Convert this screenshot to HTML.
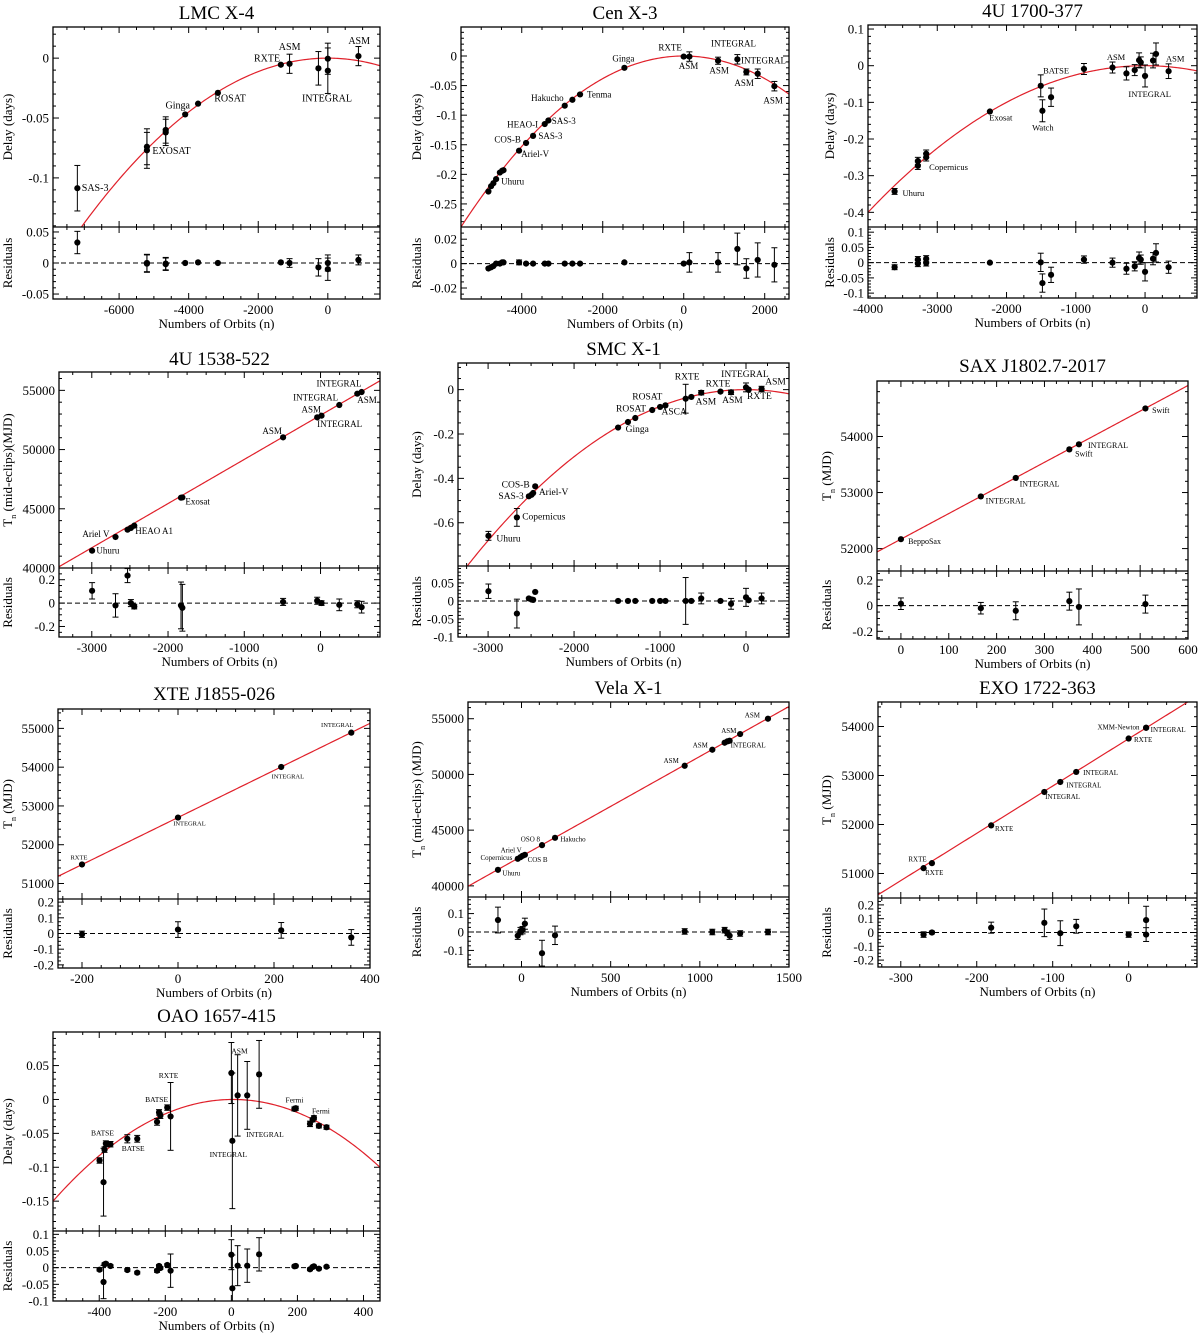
<!DOCTYPE html>
<html><head><meta charset="utf-8">
<style>
html,body{margin:0;padding:0;background:#fff;}
svg{display:block;font-family:"Liberation Serif",serif;}
</style></head>
<body>
<svg id="fig" width="1200" height="1335" viewBox="0 0 1200 1335" xmlns="http://www.w3.org/2000/svg"></svg>
<script>
// ---------- data ----------
// LMC X-4
const lmcN=[-7200,-5200,-5200,-4660,-4660,-4100,-3730,-3160,-1350,-1100,-270,0,0,880];
const lmcY=[-0.1086,-0.074,-0.077,-0.060,-0.062,-0.047,-0.038,-0.029,-0.0055,-0.0047,-0.0085,-0.0005,-0.0105,0.0017];
const lmcE=[0.019,0.015,0.015,0.011,0.011,0,0,0,0,0.008,0.014,0.013,0.019,0.008];
const lmcR=[0.033,0,-0.001,-0.001,-0.002,0,0.001,0,0.001,0,-0.007,0,-0.01,0.005];
const lmcRE=[0.018,0.014,0.014,0.01,0.01,0,0,0,0,0.007,0.014,0.013,0.018,0.008];
const lmcLab=[["SAS-3",-7073,-0.111],["EXOSAT",-5045,-0.080],["Ginga",-4665,-0.042],["ROSAT",-3265,-0.036],["RXTE",-2123,-0.003],["ASM",-1409,0.0066],["INTEGRAL",-743,-0.036],["ASM",590,0.012]];
// Cen X-3
const cenN=[-4823,-4757,-4700,-4633,-4540,-4485,-4450,-4066,-3893,-3720,-3432,-3341,-2938,-2749,-2560,-1465,0,140,848,1325,1547,1827,2239];
const cenY=[-0.229,-0.220,-0.215,-0.208,-0.197,-0.194,-0.193,-0.160,-0.147,-0.135,-0.115,-0.109,-0.084,-0.074,-0.065,-0.020,-0.001,-0.001,-0.008,-0.0056,-0.027,-0.030,-0.051];
const cenE=[0,0,0,0,0,0,0,0,0,0,0,0,0,0,0,0,0,0.008,0.006,0.008,0.005,0.008,0.008];
const cenR=[-0.004,-0.003,-0.002,0,0,0.001,0.001,0.001,0,0,0,0,0,0,0,0.001,0,0.001,0.001,0.012,-0.004,0.003,-0.001];
const cenRE=[0,0,0,0,0,0,0,0.002,0,0,0,0,0,0,0,0,0,0.008,0.008,0.013,0.008,0.014,0.014];
const cenLab=[["Uhuru",-4510,-0.217],["Ariel-V",-4016,-0.171],["COS-B",-4675,-0.146],["SAS-3",-3588,-0.140],["HEAO-I",-4362,-0.121],["SAS-3",-3259,-0.115],["Hakucho",-3769,-0.076],["Tenma",-2387,-0.070],["Ginga",-1761,-0.009],["RXTE",-625,0.009],["ASM",-123,-0.022],["INTEGRAL",675,0.016],["ASM",634,-0.030],["INTEGRAL",1415,-0.013],["ASM",1251,-0.051],["ASM",1967,-0.080]];
// 4U 1700-377
const u17N=[-3616,-3280,-3280,-3160,-3160,-2240,-1506,-1482,-1357,-882,-470,-269,-149,-86,-62,0,115,158,340];
const u17Y=[-0.343,-0.260,-0.273,-0.240,-0.250,-0.125,-0.055,-0.123,-0.086,-0.009,-0.005,-0.021,-0.012,0.015,0.009,-0.028,0.014,0.032,-0.015];
const u17E=[0.008,0.01,0.01,0.01,0.01,0,0.03,0.03,0.025,0.015,0.015,0.018,0.015,0.02,0.015,0.03,0.02,0.03,0.02];
const u17R=[-0.015,0.01,-0.003,0.013,-0.001,0,0.001,-0.067,-0.04,0.01,0,-0.02,-0.012,0.015,0.01,-0.03,0.013,0.032,-0.015];
const u17RE=[0.008,0.01,0.01,0.01,0.01,0,0.03,0.03,0.025,0.012,0.015,0.018,0.015,0.02,0.015,0.03,0.02,0.03,0.02];
const u17Lab=[["Uhuru",-3501,-0.355],["Copernicus",-3117,-0.284],["Exosat",-2249,-0.150],["Watch",-1631,-0.177],["BATSE",-1472,-0.021],["ASM",-552,0.015],["INTEGRAL",-240,-0.086],["ASM",302,0.011]];
// 4U 1538-522
const u15N=[-2996,-2689,-2531,-2487,-2443,-1830,-1812,-491,-44,13,246,482,539];
const u15Y=[41465,42618,43237,43378,43575,45939,45960,51032,52720,52860,53762,54719,54859];
const u15E=[0,0,0,0,0,0,0,0,0,0,0,0,0];
const u15R=[0.105,-0.02,0.235,0.0,-0.03,-0.02,-0.04,0.01,0.02,0.0,-0.015,-0.01,-0.035];
const u15RE=[0.07,0.1,0.06,0.03,0.02,0.2,0.2,0.03,0.03,0.02,0.05,0.03,0.05];
const u15Lab=[["Uhuru",-2939,41210],["Ariel V",-3123,42620],["HEAO A1",-2430,42870],["Exosat",-1772,45350],["ASM",-763,51310],["ASM",-250,53140],["INTEGRAL",-360,54130],["INTEGRAL",-53,55340],["ASM",482,53930],["INTEGRAL",-44,51900]];
// SMC X-1
const smcN=[-2996,-2665,-2526,-2495,-2476,-2452,-1488,-1373,-1288,-1091,-999,-937,-702,-636,-521,-297,-174,0,31,181];
const smcY=[-0.659,-0.576,-0.481,-0.474,-0.466,-0.436,-0.171,-0.146,-0.128,-0.092,-0.078,-0.071,-0.041,-0.033,-0.014,-0.009,-0.012,0.010,0.0,0.003];
const smcE=[0.02,0.04,0,0,0,0,0,0,0,0,0,0,0.065,0,0.01,0,0.01,0.02,0,0.012];
const smcR=[0.027,-0.035,0.007,0.004,0.003,0.025,0,0,0,0,0,0,0,0,0.007,0,-0.008,0.01,0.002,0.007];
const smcRE=[0.02,0.04,0,0,0,0,0,0,0,0,0,0,0.065,0,0.015,0,0.015,0.025,0,0.015];
const smcLab=[["Uhuru",-2904,-0.684],["Copernicus",-2603,-0.586],["SAS-3",-2880,-0.493],["COS-B",-2842,-0.441],["Ariel-V",-2410,-0.475],["Ginga",-1400,-0.192],["ROSAT",-1512,-0.098],["ROSAT",-1323,-0.045],["ASCA",-983,-0.113],["RXTE",-829,0.045],["ASM",-586,-0.068],["RXTE",-470,0.015],["ASM",-278,-0.060],["INTEGRAL",-289,0.056],["RXTE",12,-0.042],["ASM",224,0.023]];
// SAX J1802.7-2017
const saxN=[0,167,240,352,372,511];
const saxY=[52168,52930,53260,53770,53860,54500];
const saxE=[0,0,0,0,0,0];
const saxR=[0.015,-0.02,-0.04,0.035,-0.01,0.012];
const saxRE=[0.045,0.045,0.07,0.07,0.14,0.07];
const saxLab=[["BeppoSax",15,52078],["INTEGRAL",177,52806],["INTEGRAL",248,53105],["Swift",364,53642],["INTEGRAL",391,53791],["Swift",525,54418]];
// XTE J1855-026
const xteN=[-200,0,215,361];
const xteY=[51490,52700,54005,54890];
const xteE=[0,0,0,0];
const xteR=[-0.005,0.025,0.02,-0.025];
const xteRE=[0.02,0.05,0.05,0.05];
const xteLab=[["RXTE",-224,51617],["INTEGRAL",-10,52490],["INTEGRAL",195,53707],["INTEGRAL",298,55034]];
// Vela X-1
const velN=[-132,-21,-6,6,19,115,188,915,1070,1139,1154,1167,1226,1382];
const velY=[41437,42425,42575,42695,42785,43653,44311,50778,52216,52844,52964,53024,53623,55000];
const velE=[0,0,0,0,0,0,0,0,0,0,0,0,0,0];
const velR=[0.065,-0.02,0.005,0.01,0.045,-0.115,-0.018,0.003,0,0.01,-0.005,-0.02,-0.008,0];
const velRE=[0.07,0.02,0.02,0.02,0.03,0.07,0.05,0.015,0.015,0.015,0.015,0.02,0.015,0.015];
const velLab=[["ASM",1252,55120],["ASM",1120,53710],["INTEGRAL",1173,52425],["ASM",960,52425],["ASM",797,51020],["Hakucho",218,43980],["OSO 8",-4,43980],["Ariel V",-117,42990],["Copernicus",-230,42335],["COS B",34,42125],["Uhuru",-107,40930]];
// EXO 1722-363
const exoN=[-270,-259,-181,-111,-90,-69,0,23,23];
const exoY=[51109,51211,51982,52664,52868,53073,53755,53973,53975];
const exoE=[0,0,0,0,0,0,0,0,0];
const exoR=[-0.015,0,0.035,0.07,-0.005,0.045,-0.015,0.09,-0.015];
const exoRE=[0.02,0.01,0.04,0.1,0.09,0.05,0.02,0.1,0.05];
const exoLab=[["XMM-Newton",-41,53940],["INTEGRAL",29,53884],["RXTE",7,53680],["INTEGRAL",-60,53011],["INTEGRAL",-82,52759],["INTEGRAL",-110,52520],["RXTE",-176,51866],["RXTE",-290,51245],["RXTE",-268,50966]];
// OAO 1657-415
const oaoN=[-399,-387,-384,-380,-366,-315,-285,-225,-219,-215,-194,-184,0,3,19,48,84,191,195,238,246,250,265,288];
const oaoY=[-0.090,-0.122,-0.074,-0.065,-0.066,-0.058,-0.058,-0.033,-0.019,-0.024,-0.012,-0.025,0.039,-0.061,0.006,0.006,0.037,-0.014,-0.013,-0.036,-0.030,-0.027,-0.039,-0.041];
const oaoE=[0.004,0.05,0.004,0.004,0.004,0.006,0.005,0.005,0.004,0.004,0.004,0.05,0.045,0.1,0.06,0.05,0.05,0.003,0.003,0.004,0.003,0.003,0.003,0.003];
const oaoR=[-0.006,-0.043,0.01,0.012,0.005,-0.007,-0.015,-0.009,0.005,-0.001,0.008,-0.009,0.039,-0.062,0.006,0.006,0.04,0.004,0.005,-0.005,0.002,0.004,-0.003,0.003];
const oaoRE=[0.004,0.05,0.004,0.004,0.004,0.004,0.004,0.005,0.004,0.004,0.004,0.05,0.045,0.1,0.06,0.05,0.05,0.003,0.003,0.004,0.003,0.003,0.003,0.003];
const oaoLab=[["BATSE",-425,-0.053],["BATSE",-332,-0.076],["BATSE",-261,-0.0035],["RXTE",-220,0.032],["ASM",0,0.068],["INTEGRAL",45,-0.055],["INTEGRAL",-66,-0.085],["Fermi",164,-0.0045],["Fermi",244,-0.021]];
// fit model parameters
const lmcFit=[-2.81e-9,0], cenFit=[-9.55e-9,0], u17Fit=[-2.5e-8,0], smcFit=[-7.56e-8,0], oaoFit=[-5.05e-7,5];
const u15Fit=[52900,3.73], saxFit=[52168,4.57], xteFit=[52702,6.07], velFit=[42650,8.964], exoFit=[53750,9.65];

// ---------- layout ----------
const panels=[
 {id:'lmc-x4',title:'LMC X-4',L:53,Rt:380,T:27,S:227,B:299,tY:12,ylx:8,x:[-7900,1500],xmaj:2000,xmin:500,y:[-0.141,0.026],ymaj:0.05,ymin:0.01,r:[-0.058,0.058],rmaj:0.05,rmin:0.01,yl:'Delay (days)',sub:null,quad:true,fit:lmcFit,N:lmcN,Y:lmcY,E:lmcE,RR:lmcR,RE:lmcRE,lab:lmcLab,lfs:10},
 {id:'cen-x3',title:'Cen X-3',L:461,Rt:789,T:27,S:227,B:299,tY:12,ylx:417,x:[-5500,2600],xmaj:2000,xmin:500,y:[-0.289,0.049],ymaj:0.05,ymin:0.01,r:[-0.029,0.030],rmaj:0.02,rmin:0.005,yl:'Delay (days)',sub:null,quad:true,fit:cenFit,N:cenN,Y:cenY,E:cenE,RR:cenR,RE:cenRE,lab:cenLab,lfs:9},
 {id:'4u-1700',title:'4U 1700-377',L:868,Rt:1197,T:25,S:227,B:298,tY:10,ylx:830,x:[-4000,750],xmaj:1000,xmin:250,y:[-0.44,0.111],ymaj:0.1,ymin:0.02,r:[-0.116,0.117],rmaj:0.05,rmin:0.01,yl:'Delay (days)',sub:null,quad:true,fit:u17Fit,N:u17N,Y:u17Y,E:u17E,RR:u17R,RE:u17RE,lab:u17Lab,lfs:8.5},
 {id:'4u-1538',title:'4U 1538-522',L:59,Rt:380,T:372,S:568,B:637,tY:358,ylx:8,x:[-3430,780],xmaj:1000,xmin:250,y:[40000,56550],ymaj:5000,ymin:1000,r:[-0.29,0.30],rmaj:0.2,rmin:0.05,yl:['T','n',' (mid-eclips)(MJD)'],quad:false,fit:u15Fit,N:u15N,Y:u15Y,E:u15E,RR:u15R,RE:u15RE,lab:u15Lab,lfs:9},
 {id:'smc-x1',title:'SMC X-1',L:458,Rt:789,T:363,S:566,B:637,tY:348,ylx:417,x:[-3350,500],xmaj:1000,xmin:250,y:[-0.795,0.12],ymaj:0.2,ymin:0.05,r:[-0.1,0.097],rmaj:0.05,rmin:0.01,yl:'Delay (days)',quad:true,fit:smcFit,N:smcN,Y:smcY,E:smcE,RR:smcR,RE:smcRE,lab:smcLab,lfs:9.5},
 {id:'sax-j1802',title:'SAX J1802.7-2017',L:877,Rt:1188,T:381,S:571,B:639,tY:365,ylx:827,x:[-50,600],xmaj:100,xmin:25,y:[51600,54990],ymaj:1000,ymin:200,r:[-0.26,0.27],rmaj:0.2,rmin:0.05,yl:['T','n','  (MJD)'],quad:false,fit:saxFit,N:saxN,Y:saxY,E:saxE,RR:saxR,RE:saxRE,lab:saxLab,lfs:8},
 {id:'xte-j1855',title:'XTE J1855-026',L:58,Rt:370,T:709,S:899,B:968,tY:693,ylx:8,x:[-250,400],xmaj:200,xmin:40,y:[50600,55500],ymaj:1000,ymin:200,r:[-0.22,0.22],rmaj:0.1,rmin:0.025,yl:['T','n','  (MJD)'],quad:false,fit:xteFit,N:xteN,Y:xteY,E:xteE,RR:xteR,RE:xteRE,lab:xteLab,lfs:6.5},
 {id:'vela-x1',title:'Vela X-1',L:468,Rt:789,T:702,S:897,B:967,tY:687,ylx:417,x:[-300,1500],xmaj:500,xmin:100,y:[39000,56500],ymaj:5000,ymin:1000,r:[-0.19,0.19],rmaj:0.1,rmin:0.025,yl:['T','n',' (mid-eclips) (MJD)'],quad:false,fit:velFit,N:velN,Y:velY,E:velE,RR:velR,RE:velRE,lab:velLab,lfs:7},
 {id:'exo-1722',title:'EXO 1722-363',L:878,Rt:1197,T:702,S:898,B:967,tY:687,ylx:827,x:[-330,90],xmaj:100,xmin:25,y:[50500,54500],ymaj:1000,ymin:200,r:[-0.25,0.25],rmaj:0.1,rmin:0.025,yl:['T','n','  (MJD)'],quad:false,fit:exoFit,N:exoN,Y:exoY,E:exoE,RR:exoR,RE:exoRE,lab:exoLab,lfs:7},
 {id:'oao-1657',title:'OAO 1657-415',L:53,Rt:380,T:1032,S:1231,B:1301,tY:1015,ylx:8,x:[-540,450],xmaj:200,xmin:50,y:[-0.194,0.0995],ymaj:0.05,ymin:0.01,r:[-0.1,0.11],rmaj:0.05,rmin:0.01,yl:'Delay (days)',quad:true,fit:oaoFit,N:oaoN,Y:oaoY,E:oaoE,RR:oaoR,RE:oaoRE,lab:oaoLab,lfs:7.5}
];

const NS='http://www.w3.org/2000/svg';
const svg=document.getElementById('fig');
function mk(tag,attrs,parent){const e=document.createElementNS(NS,tag);for(const k in attrs)e.setAttribute(k,attrs[k]);(parent||svg).appendChild(e);return e;}
function fmt(v){return String(Number(v.toFixed(6)));}
function steps(a,b,st){const out=[];const k0=Math.ceil(a/st-1e-6),k1=Math.floor(b/st+1e-6);for(let k=k0;k<=k1;k++)out.push(k*st);return out;}

panels.forEach(p=>{
  const g=mk('g',{});
  
  
  const sx=v=>p.L+(v-p.x[0])/(p.x[1]-p.x[0])*(p.Rt-p.L);
  const sy=v=>p.S-(v-p.y[0])/(p.y[1]-p.y[0])*(p.S-p.T);
  const sr=v=>p.B-(v-p.r[0])/(p.r[1]-p.r[0])*(p.B-p.S);
  const model=n=>p.quad?p.fit[0]*(n-p.fit[1])*(n-p.fit[1]):p.fit[0]+p.fit[1]*n;
  const cx=(p.L+p.Rt)/2;
  // title
  const t=mk('text',{x:cx,y:p.tY+7,'text-anchor':'middle','font-size':19},g);
  
  
  t.textContent=p.title;
  // clip
  const cp=mk('clipPath',{id:'c-'+p.id},g);mk('rect',{x:p.L,y:p.T,width:p.Rt-p.L,height:p.S-p.T},cp);
  // ticks
  const tk=mk('g',{stroke:'#000','stroke-width':1},g);
  
  
  const xmajs=steps(p.x[0],p.x[1],p.xmaj);
  steps(p.x[0],p.x[1],p.xmin).forEach(v=>{
    const isM=xmajs.some(m=>Math.abs(m-v)<1e-6);const len=isM?6:3;const X=sx(v);
    [[p.T,1],[p.S,-1],[p.S,1],[p.B,-1]].forEach(([yy,d])=>mk('line',{x1:X,x2:X,y1:yy,y2:yy+d*len},tk));
  });
  const yt=(rng,maj,min,f,top,bot)=>{const majs=steps(rng[0],rng[1],maj);
    steps(rng[0],rng[1],min).forEach(v=>{const isM=majs.some(m=>Math.abs(m-v)<1e-9*Math.max(1,Math.abs(m)));const len=isM?6:3;const Y=f(v);
      if(Y<top-0.5||Y>bot+0.5)return;
      mk('line',{x1:p.L,x2:p.L+len,y1:Y,y2:Y},tk);mk('line',{x1:p.Rt,x2:p.Rt-len,y1:Y,y2:Y},tk);});
    return majs;};
  const ymajs=yt(p.y,p.ymaj,p.ymin,sy,p.T,p.S);
  const rmajs=yt(p.r,p.rmaj,p.rmin,sr,p.S,p.B);
  // tick labels
  const tl=mk('g',{'font-size':13},g);
  
  
  xmajs.forEach(v=>{const e=mk('text',{x:sx(v),y:p.B+15,'text-anchor':'middle'},tl);e.textContent=fmt(v);});
  ymajs.forEach(v=>{const e=mk('text',{x:p.L-4,y:sy(v)+4.5,'text-anchor':'end'},tl);e.textContent=fmt(v);});
  rmajs.forEach(v=>{const e=mk('text',{x:p.L-4,y:sr(v)+4.5,'text-anchor':'end'},tl);e.textContent=fmt(v);});
  // axis titles
  const xt=mk('text',{x:cx,y:p.B+29,'text-anchor':'middle','font-size':13},g);
  
  
  xt.textContent='Numbers of Orbits (n)';
  const ymid=(p.T+p.S)/2;
  const ylt=mk('text',{x:0,y:0,'text-anchor':'middle','font-size':13,transform:`translate(${p.ylx+4},${ymid}) rotate(-90)`},g);
  
  
  if(typeof p.yl==='string'){ylt.textContent=p.yl;}
  else{const a=mk('tspan',{},ylt);a.textContent=p.yl[0];const b=mk('tspan',{'font-size':8,dy:4},ylt);b.textContent=p.yl[1];const c=mk('tspan',{dy:-4},ylt);c.textContent=p.yl[2];}
  const rlt=mk('text',{x:0,y:0,'text-anchor':'middle','font-size':13,transform:`translate(${p.ylx+4},${(p.S+p.B)/2}) rotate(-90)`},g);
  
  
  rlt.textContent='Residuals';
  // fit curve
  let d='';for(let i=0;i<=200;i++){const n=p.x[0]+(p.x[1]-p.x[0])*i/200;d+=(i?'L':'M')+sx(n).toFixed(2)+','+sy(model(n)).toFixed(2);}
  const fc=mk('path',{d:d,fill:'none',stroke:'#e0202a','stroke-width':1.2,'clip-path':`url(#c-${p.id})`},g);
  
  
  // zero line
  const zl=mk('line',{x1:p.L,x2:p.Rt,y1:sr(0),y2:sr(0),stroke:'#000','stroke-width':1,'stroke-dasharray':'5,3'},g);
  
  
  // points
  const pts=mk('g',{},g);
  
  
  const drawPt=(X,Yc,eTop,eBot,name)=>{
    if(Math.abs(eBot-eTop)>1){mk('line',{x1:X,x2:X,y1:eTop,y2:eBot,stroke:'#000','stroke-width':1},pts);
      mk('line',{x1:X-3,x2:X+3,y1:eTop,y2:eTop,stroke:'#000','stroke-width':1},pts);
      mk('line',{x1:X-3,x2:X+3,y1:eBot,y2:eBot,stroke:'#000','stroke-width':1},pts);}
    const c=mk('circle',{cx:X,cy:Yc,r:3.1,fill:'#000'},pts);
    
    
  };
  p.N.forEach((n,i)=>{
    const X=sx(n);
    drawPt(X,sy(p.Y[i]),Math.max(p.T,sy(p.Y[i]+p.E[i])),Math.min(p.S,sy(p.Y[i]-p.E[i])),'data-point');
    drawPt(X,sr(p.RR[i]),Math.max(p.S,sr(p.RR[i]+p.RE[i])),Math.min(p.B,sr(p.RR[i]-p.RE[i])),'residual-point');
  });
  // annotations
  const an=mk('g',{'font-size':p.lfs},g);
  
  
  p.lab.forEach(l=>{const e=mk('text',{x:sx(l[1]),y:sy(l[2])},an);e.textContent=l[0];});
  // frames
  const fr=mk('rect',{x:p.L,y:p.T,width:p.Rt-p.L,height:p.B-p.T,fill:'none',stroke:'#000','stroke-width':1.3},g);
  
  
  const sp=mk('line',{x1:p.L,x2:p.Rt,y1:p.S,y2:p.S,stroke:'#000','stroke-width':1.3},g);
  
  
});
</script>
</body></html>
